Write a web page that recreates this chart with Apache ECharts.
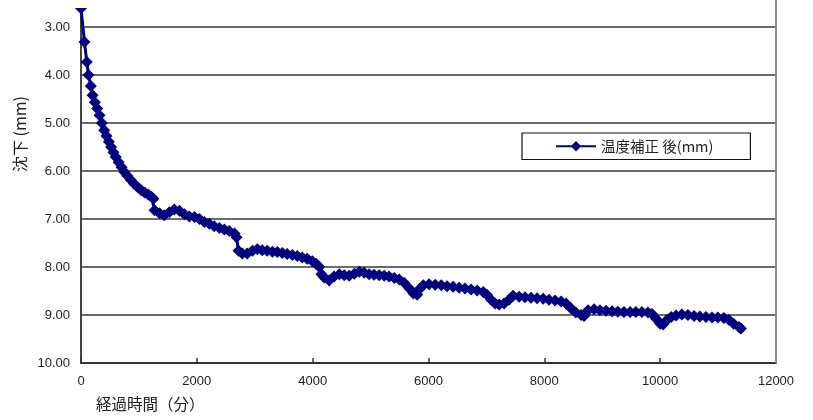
<!DOCTYPE html>
<html>
<head>
<meta charset="utf-8">
<script src="https://cdn.jsdelivr.net/npm/echarts@6/dist/echarts.min.js"></script>
<style>
  html, body { margin: 0; padding: 0; background: #fff; }
  #chart { width: 813px; height: 420px; }
</style>
</head>
<body>
<div id="chart"></div>
<script>
// 経過時間 (分)
const elapsedMinutes = [0,60,100,130,170,200,240,280,320,360,400,440,480,520,560,600,650,700,750,800,860,920,980,1040,1100,1160,1220,1250,1270,1355,1440,1525,1610,1700,1785,1870,1960,2045,2130,2215,2300,2390,2475,2560,2650,2685,2720,2785,2870,2960,3045,3130,3215,3305,3390,3475,3560,3650,3735,3820,3905,3995,4060,4115,4150,4200,4285,4370,4460,4545,4630,4720,4805,4890,4975,5060,5150,5235,5320,5410,5495,5580,5670,5740,5805,5855,5910,6010,6115,6220,6320,6425,6530,6630,6735,6840,6945,7010,7080,7150,7220,7305,7390,7460,7565,7665,7770,7875,7980,8080,8185,8290,8375,8460,8545,8635,8685,8755,8860,8960,9065,9170,9270,9375,9480,9580,9685,9790,9860,9930,10000,10050,10120,10190,10275,10375,10480,10585,10685,10790,10895,10995,11100,11185,11270,11360,11395];

// 温度補正 後 の沈下量 (mm)
const settlementMm = [2.61,3.31,3.73,4.00,4.23,4.42,4.57,4.70,4.84,5.00,5.15,5.27,5.39,5.50,5.61,5.71,5.82,5.92,6.02,6.10,6.19,6.27,6.34,6.40,6.45,6.49,6.54,6.58,6.82,6.88,6.92,6.86,6.80,6.83,6.90,6.95,6.96,7.00,7.06,7.10,7.15,7.19,7.22,7.25,7.30,7.38,7.66,7.72,7.72,7.66,7.63,7.65,7.66,7.68,7.69,7.71,7.73,7.75,7.77,7.80,7.83,7.88,7.93,8.00,8.15,8.22,8.28,8.20,8.15,8.17,8.18,8.14,8.10,8.12,8.15,8.16,8.17,8.18,8.20,8.23,8.26,8.33,8.45,8.55,8.58,8.45,8.38,8.36,8.37,8.38,8.40,8.41,8.43,8.45,8.47,8.49,8.52,8.58,8.68,8.76,8.78,8.76,8.68,8.60,8.62,8.63,8.64,8.65,8.66,8.68,8.70,8.72,8.76,8.86,8.95,9.00,9.02,8.90,8.88,8.90,8.91,8.92,8.93,8.94,8.94,8.94,8.94,8.95,8.98,9.08,9.18,9.20,9.10,9.04,9.01,8.99,9.00,9.02,9.03,9.04,9.05,9.05,9.06,9.10,9.18,9.25,9.28];

// 目盛り
const xTicks = [0, 2000, 4000, 6000, 8000, 10000, 12000];
const yTicks = [3, 4, 5, 6, 7, 8, 9, 10];

const seriesName = '温度補正 後(mm)';
const xAxisTitle = '経過時間（分）';
const yAxisTitle = '沈下 (mm)';

const points = elapsedMinutes.map((t, i) => [t, settlementMm[i]]);

const numFont = '"Liberation Sans", Arial, sans-serif';
const jpFont = '"Noto Sans CJK JP", sans-serif';

const chart = echarts.init(document.getElementById('chart'), null, { renderer: 'canvas' });

const gridLeft = 81, gridRight = 37, gridTop = 8, gridBottom = 57;

chart.setOption({
  animation: false,
  backgroundColor: '#fff',
  grid: { left: gridLeft, right: gridRight, top: gridTop, bottom: gridBottom },
  legend: {
    left: 522, top: 133,
    padding: [6, 37, 6, 33],
    borderColor: '#111', borderWidth: 1.2,
    itemWidth: 40, itemHeight: 13, itemGap: 0,
    textStyle: { fontFamily: jpFont, fontSize: 14.5, color: '#222' },
    data: [seriesName]
  },
  xAxis: {
    type: 'value',
    min: 0, max: 12000, interval: 2000,
    axisLine: { show: true, lineStyle: { color: '#333', width: 2 } },
    axisTick: { show: true, inside: true, length: 5, customValues: xTicks, lineStyle: { color: '#333', width: 1.5 } },
    axisLabel: { fontFamily: numFont, fontSize: 13, color: '#222', margin: 12, customValues: xTicks, formatter: v => String(v) },
    splitLine: { show: false }
  },
  yAxis: {
    type: 'value',
    inverse: true,
    min: 2.604, max: 10,
    axisLine: { show: true, onZero: false, lineStyle: { color: '#444', width: 2 } },
    axisTick: { show: false, customValues: yTicks },
    axisLabel: {
      fontFamily: numFont, fontSize: 13, color: '#222', margin: 11,
      customValues: yTicks,
      formatter: v => Number(v).toFixed(2)
    },
    splitLine: { show: true, lineStyle: { color: '#3a3a3a', width: 1.5 } }
  },
  graphic: [
    // the plot area runs off the top edge: mask above its visible top
    { type: 'rect', left: 0, top: 0, shape: { width: 813, height: gridTop }, style: { fill: '#fff' }, z: 100 },
    // right border of the plot area
    {
      type: 'line', z: 101,
      shape: { x1: 813 - gridRight, y1: 0, x2: 813 - gridRight, y2: 420 - gridBottom },
      style: { stroke: '#8a8a8a', lineWidth: 2 }
    },
    {
      type: 'text', left: 96, top: 396, z: 101,
      style: { text: xAxisTitle, fontFamily: jpFont, fontSize: 15.5, fill: '#222' }
    },
    {
      type: 'text', x: 12, y: 172, rotation: Math.PI / 2, z: 101,
      style: { text: yAxisTitle, fontFamily: jpFont, fontSize: 16, fill: '#222', textVerticalAlign: 'top' }
    }
  ],
  series: [{
    name: seriesName,
    type: 'line',
    data: points,
    color: '#000080',
    symbol: 'diamond',
    symbolSize: 12,
    showAllSymbol: true,
    lineStyle: { color: '#000080', width: 3 },
    itemStyle: { color: '#000080' },
    clip: true
  }]
});
</script>
</body>
</html>
